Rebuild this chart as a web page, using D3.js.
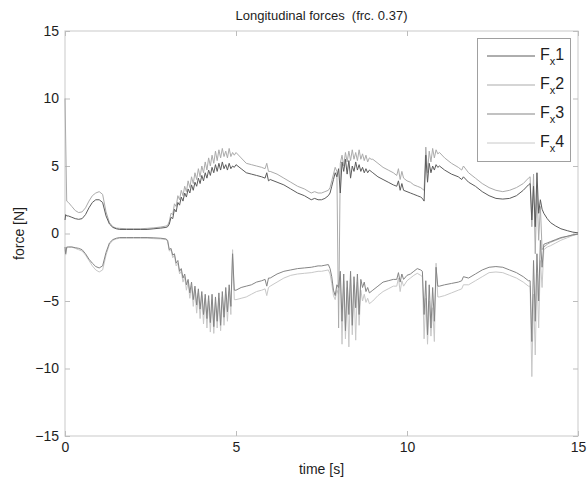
<!DOCTYPE html>
<html><head><meta charset="utf-8">
<script src="https://cdn.jsdelivr.net/npm/d3@7"></script>
<style>
body{margin:0;background:#fff;}
svg{display:block;font-family:"Liberation Sans",Arial,Helvetica,sans-serif;}
</style>
</head><body>
<svg id="chart" width="587" height="484"></svg>
<script>
// ---- data ----
const time = [
  0,0.02,0.05,0.1,0.2,0.3,0.4,0.5,0.6,0.7,0.8,0.9,1.0,1.1,1.2,1.3,1.4,1.5,1.6,1.8,2.0,2.2,2.4,2.6,2.8,2.95,
  3.00,3.05,3.10,3.15,3.20,3.25,3.30,3.35,3.40,3.45,3.50,3.55,3.60,3.65,3.70,3.75,3.80,3.85,3.90,3.95,
  4.00,4.05,4.10,4.15,4.20,4.25,4.30,4.35,4.40,4.45,4.50,4.55,4.60,4.65,4.70,4.75,4.80,4.85,4.90,4.95,
  5.0,5.15,5.3,5.45,5.6,5.75,5.85,5.9,5.95,6.0,6.2,6.4,6.6,6.8,7.0,7.2,7.3,7.4,7.5,7.6,7.7,7.75,7.8,7.85,7.9,7.95,
  8.00,8.05,8.10,8.15,8.20,8.25,8.30,8.35,8.40,8.45,8.50,8.55,8.60,8.65,8.70,8.75,8.80,8.85,8.90,8.95,
  9.0,9.15,9.3,9.45,9.6,9.7,9.75,9.8,9.85,9.9,10.0,10.1,10.2,10.3,10.4,
  10.45,10.5,10.55,10.6,10.65,10.7,10.75,10.8,10.85,10.9,10.95,
  11.1,11.3,11.5,11.6,11.65,11.8,12.0,12.2,12.4,12.6,12.8,13.0,13.2,13.4,13.55,
  13.6,13.65,13.7,13.75,13.8,13.85,13.9,13.95,14.0,14.1,14.2,14.35,14.5,14.7,14.85,15.0
];
const fx1 = [
  1.0,1.4,1.3,1.3,1.2,1.1,1.05,1.1,1.4,1.9,2.3,2.5,2.5,2.3,1.3,0.7,0.45,0.35,0.3,0.3,0.3,0.3,0.3,0.35,0.4,0.45,
  0.5,0.7,1.2,1.1,1.8,1.6,2.3,2.1,2.7,2.4,3.0,2.7,3.3,3.0,3.6,3.2,3.8,3.5,4.1,3.7,
  4.3,3.9,4.5,4.1,4.7,4.3,4.9,4.5,5.1,4.6,5.2,4.7,5.3,4.8,5.1,4.7,5.2,4.8,5.0,4.9,
  5.1,4.8,4.5,4.4,4.3,4.2,4.1,4.5,3.9,4.0,3.8,3.6,3.3,3.0,2.8,2.5,2.6,2.5,2.5,2.6,2.8,3.0,3.5,4.0,4.5,4.2,
  4.8,3.0,5.3,4.6,5.5,4.4,5.4,4.1,5.0,4.6,5.3,4.7,5.1,4.6,4.9,4.5,4.8,4.5,4.7,4.6,
  4.5,4.2,4.0,3.8,3.6,3.5,3.9,3.2,3.7,3.2,3.1,3.0,2.9,2.8,2.7,
  2.6,2.4,5.8,3.8,5.2,4.5,5.0,4.7,5.1,4.9,5.0,
  4.7,4.4,4.2,4.0,4.2,3.8,3.5,3.1,2.8,2.6,2.55,2.6,2.8,3.2,3.6,
  3.7,1.0,3.5,0.5,4.5,1.5,2.5,1.8,1.5,1.1,0.8,0.55,0.35,0.2,0.1,0.05
];
const fx2 = [
  10.0,7.0,2.4,2.3,2.0,1.7,1.55,1.6,1.9,2.4,2.8,3.0,3.1,2.9,1.6,0.8,0.5,0.4,0.38,0.35,0.35,0.35,0.38,0.42,0.48,0.55,
  0.6,0.9,1.5,1.4,2.2,2.0,2.8,2.5,3.2,2.8,3.5,3.1,3.9,3.4,4.2,3.7,4.5,4.0,4.8,4.2,
  5.0,4.5,5.3,4.7,5.6,5.0,5.8,5.2,6.1,5.4,6.2,5.6,6.3,5.7,6.1,5.6,6.3,5.7,6.0,5.8,
  6.0,5.6,5.2,5.1,5.0,4.9,4.8,5.2,4.6,4.6,4.4,4.1,3.8,3.5,3.3,3.0,3.1,3.0,3.0,3.1,3.2,3.4,3.9,4.4,4.9,4.6,
  -7.0,5.2,5.8,5.0,6.0,5.3,6.1,5.4,6.2,5.5,6.0,5.4,6.2,5.5,5.9,5.4,5.8,5.3,5.6,5.5,
  5.5,5.2,4.9,4.7,4.5,4.3,4.8,4.0,4.6,4.1,3.9,3.8,3.6,3.5,3.4,
  3.3,3.2,6.4,4.5,6.1,5.3,6.3,5.6,6.2,5.9,6.0,
  5.6,5.2,4.9,4.7,5.0,4.5,4.1,3.7,3.4,3.2,3.1,3.2,3.4,3.7,4.1,
  4.2,0.5,4.4,-1.5,3.5,-0.5,2.0,-1.2,-1.0,-0.8,-0.65,-0.5,-0.35,-0.2,-0.1,-0.05
];
const fx3 = [
  -1.0,-1.5,-1.0,-1.0,-1.0,-1.05,-1.1,-1.2,-1.5,-1.9,-2.2,-2.45,-2.55,-2.4,-1.4,-0.7,-0.45,-0.35,-0.3,-0.3,-0.3,-0.3,-0.3,-0.32,-0.35,-0.4,
  -0.5,-1.2,-1.1,-1.6,-1.5,-2.2,-2.0,-2.8,-2.6,-3.3,-3.0,-3.8,-3.4,-4.4,-3.6,-4.9,-3.9,-5.3,-4.1,-5.6,
  -4.3,-6.0,-4.5,-6.3,-4.6,-6.6,-4.5,-6.9,-4.7,-6.5,-4.4,-6.8,-4.3,-6.2,-4.0,-5.8,-3.8,-5.4,-1.5,-4.2,
  -4.2,-4.0,-3.9,-3.8,-3.6,-3.5,-3.4,-3.9,-3.3,-3.3,-3.0,-2.8,-2.7,-2.6,-2.55,-2.5,-2.45,-2.4,-2.4,-2.35,-2.3,-2.6,-3.2,-4.2,-4.6,-3.8,
  -4.0,-2.8,-6.5,-3.0,-7.2,-3.5,-6.0,-2.8,-6.8,-3.2,-5.5,-3.0,-6.0,-3.4,-4.0,-3.6,-4.3,-4.0,-4.4,-4.3,
  -4.2,-3.9,-3.6,-3.5,-3.4,-3.4,-2.9,-3.6,-3.0,-3.4,-3.1,-3.0,-2.8,-2.6,-2.7,
  -2.8,-6.0,-3.5,-7.5,-3.8,-7.0,-4.0,-6.5,-2.5,-3.9,-3.9,
  -3.8,-3.7,-3.6,-3.5,-3.2,-3.3,-3.0,-2.7,-2.5,-2.45,-2.5,-2.7,-2.9,-3.2,-3.5,
  -3.5,-8.0,-2.0,-6.5,-1.5,-5.0,-0.5,-2.5,-0.8,-0.7,-0.6,-0.45,-0.3,-0.2,-0.1,-0.05
];
const fx4 = [
  -1.2,-1.6,-1.1,-1.0,-1.0,-1.1,-1.2,-1.3,-1.6,-2.0,-2.4,-2.7,-2.85,-2.7,-1.6,-0.8,-0.5,-0.4,-0.35,-0.35,-0.35,-0.35,-0.35,-0.38,-0.4,-0.45,
  -0.6,-1.3,-1.2,-1.8,-1.6,-2.4,-2.2,-3.0,-2.8,-3.6,-3.2,-4.2,-3.6,-4.8,-3.9,-5.4,-4.2,-5.9,-4.4,-6.3,
  -4.6,-6.7,-4.8,-7.0,-5.0,-7.3,-4.9,-7.4,-5.1,-7.0,-4.8,-7.2,-4.7,-6.8,-4.5,-6.5,-4.3,-6.0,-1.2,-4.9,
  -4.9,-4.8,-4.7,-4.5,-4.3,-4.2,-4.1,-4.6,-4.0,-3.9,-3.6,-3.3,-3.1,-3.0,-2.95,-2.9,-2.85,-2.8,-2.8,-2.75,-2.7,-3.0,-3.7,-4.6,-4.9,-4.2,
  -4.5,-3.2,-8.2,-3.5,-7.8,-4.0,-8.4,-3.4,-7.5,-3.8,-7.9,-3.6,-6.8,-4.2,-5.0,-4.5,-5.1,-4.8,-5.2,-5.1,
  -5.0,-4.6,-4.3,-4.1,-3.9,-3.9,-3.3,-4.3,-3.5,-3.9,-3.5,-3.3,-3.1,-2.95,-3.1,
  -3.2,-7.8,-4.8,-8.2,-5.0,-7.6,-5.5,-8.0,-2.2,-4.7,-4.7,
  -4.6,-4.4,-4.2,-4.1,-3.8,-3.8,-3.5,-3.2,-2.9,-2.85,-2.9,-3.1,-3.3,-3.6,-3.9,
  -3.9,-10.6,-4.5,-9.0,-3.0,-7.0,-2.0,-4.0,-1.2,-1.0,-0.9,-0.7,-0.5,-0.3,-0.15,-0.05
];
const seriesNames = ["1","2","3","4"];
const xTicks = [0,5,10,15];
const yTicks = [-15,-10,-5,0,5,10,15];
const titleText = "Longitudinal forces  (frc. 0.37)";
const xLabel = "time [s]";
const yLabel = "force [N]";

// ---- drawing ----
const allSeries = [fx1, fx2, fx3, fx4];
allSeries.forEach((s,i)=>{ if (s.length !== time.length) throw new Error("series "+(i+1)+" length "+s.length+" != "+time.length); });

const colors = ["#5c5c5c","#ababab","#858585","#c8c8c8"];
const svg = d3.select("#chart");
const L = 65, R = 578, T = 31, B = 436;
const x = d3.scaleLinear().domain([0,15]).range([L,R]);
const y = d3.scaleLinear().domain([-15,15]).range([B,T]);

const tickColor = "#bdbdbd", labelColor = "#1e1e1e";

// frame
svg.append("rect").attr("x",L).attr("y",T).attr("width",R-L).attr("height",B-T)
  .attr("fill","#fff").attr("stroke","#d2d2d2").attr("stroke-width",1.2);

function styleAxis(g, showLabels){
  g.select(".domain").remove();
  g.selectAll(".tick line").attr("stroke",tickColor);
  g.selectAll(".tick text").attr("fill",labelColor).style("font-size","14px")
    .style("font-family",'"Liberation Sans",Arial,sans-serif');
  if(!showLabels) g.selectAll(".tick text").remove();
}
svg.append("g").attr("transform",`translate(0,${B})`)
  .call(d3.axisBottom(x).tickValues(xTicks).tickSize(-5).tickPadding(6).tickFormat(d3.format("d")))
  .call(g=>styleAxis(g,true));
svg.append("g").attr("transform",`translate(0,${T})`)
  .call(d3.axisTop(x).tickValues(xTicks).tickSize(-5))
  .call(g=>styleAxis(g,false));
svg.append("g").attr("transform",`translate(${L},0)`)
  .call(d3.axisLeft(y).tickValues(yTicks).tickSize(-5).tickPadding(6).tickFormat(d3.format("d")))
  .call(g=>styleAxis(g,true));
svg.append("g").attr("transform",`translate(${R},0)`)
  .call(d3.axisRight(y).tickValues(yTicks).tickSize(-5))
  .call(g=>styleAxis(g,false));

// lines
const line = d3.line().x((d,i)=>x(time[i])).y(d=>y(d));
const order = [3,1,2,0];
order.forEach(k=>{
  svg.append("path").datum(allSeries[k]).attr("d",line)
    .attr("fill","none").attr("stroke",colors[k]).attr("stroke-width",1)
    .attr("stroke-linejoin","round");
});

// title & axis labels
svg.append("text").attr("x",(L+R)/2).attr("y",20).attr("text-anchor","middle")
  .attr("fill",labelColor).style("font-size","13px").style("white-space","pre")
  .attr("xml:space","preserve").text(titleText);
svg.append("text").attr("x",(L+R)/2).attr("y",474).attr("text-anchor","middle")
  .attr("fill",labelColor).style("font-size","14px").text(xLabel);
svg.append("text").attr("transform",`translate(24,${(T+B)/2}) rotate(-90)`).attr("text-anchor","middle")
  .attr("fill",labelColor).style("font-size","14px").text(yLabel);

// legend
const lg = svg.append("g");
lg.append("rect").attr("x",477.5).attr("y",38.5).attr("width",93).attr("height",123)
  .attr("fill","#fff").attr("stroke","#a0a0a0").attr("stroke-width",1);
const rowY = d3.scalePoint().domain(seriesNames).range([56,143]);
seriesNames.forEach((n,i)=>{
  const yy = rowY(n);
  lg.append("line").attr("x1",487).attr("x2",535).attr("y1",yy).attr("y2",yy)
    .attr("stroke",colors[i]).attr("stroke-width",1);
  const t = lg.append("text").attr("x",540).attr("y",yy+4).attr("fill",labelColor).style("font-size","16px");
  t.append("tspan").text("F");
  t.append("tspan").attr("dy",5).style("font-size","11px").text("x");
  t.append("tspan").attr("dy",-5).text(n);
});
</script>
</body></html>
